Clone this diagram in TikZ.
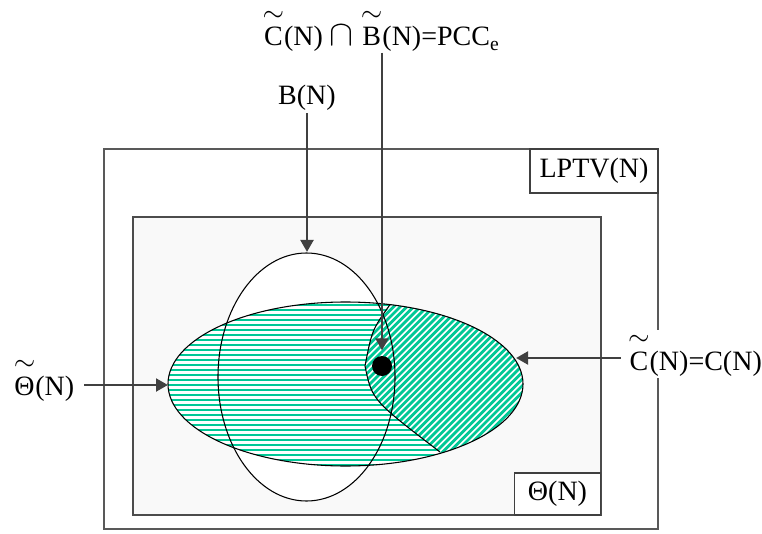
\documentclass[tikz,border=0pt]{standalone}
\usepackage{amsmath}
\usepackage{fontspec}
\setmainfont{Liberation Serif}
\usetikzlibrary{arrows.meta,positioning}

\definecolor{hatchgreen}{RGB}{0,200,150}
\definecolor{pointgray}{RGB}{64,64,64}
\definecolor{setgray}{RGB}{249,249,249}
\newcommand{\tld}[1]{\ensuremath{\overset{\raisebox{0.5pt}{$\sim$}}{\text{#1}}}}

\begin{document}
\begin{tikzpicture}[x=0.75pt,y=-0.75pt,>={Triangle[length=9pt,width=9.5pt]},
  lbl/.style={font=\fontsize{21}{25}\selectfont,inner sep=1.5pt},
  tagbox/.style={lbl,draw=black!75,fill=white,line width=0.8pt},
  pointer/.style={->,draw=pointgray,fill=pointgray,line width=2.2pt},
  stripe/.style={hatchgreen,line width=2.2pt},
  contour/.style={draw=black,line width=0.8pt}]
\useasboundingbox (0,0) rectangle (762,534);
% LPTV(N) and Theta(N)
\draw[black!65,line width=1.1pt] (104,149) rectangle (658,529);
\draw[black!70,fill=setgray,line width=1.1pt] (133,217) rectangle (601,515);
% B(N)
\fill[white] (306.5,377) ellipse [x radius=88.5,y radius=124];
% C(N), horizontal hatch
\begin{scope}
\clip (345.5,384) ellipse [x radius=177.5,y radius=82];
\fill[white] (160,295) rectangle (530,470);
\foreach \y in {300,305,...,470} {\draw[stripe] (160,\y) -- (530,\y);}
\end{scope}
% PCC part, diagonal hatch
\begin{scope}
\clip (345.5,384) ellipse [x radius=177.5,y radius=82];
\clip (391,295) -- (391,305) .. controls (372,330) .. (365,366)
  .. controls (372,400) .. (440,452) -- (460,480) -- (540,480) -- (540,295) -- cycle;
\fill[white] (355,295) rectangle (530,470);
\foreach \c in {640,646.7,...,1000} {\draw[stripe,line width=2.1pt] (\c-480,480) -- (\c-290,290);}
\end{scope}
\draw[contour] (306.5,377) ellipse [x radius=88.5,y radius=124];
\draw[contour] (345.5,384) ellipse [x radius=177.5,y radius=82];
\draw[contour] (390,304.6) .. controls (372,330) .. (365,366) .. controls (372,400) .. (440,452);
\node[circle,fill=black,inner sep=0pt,minimum size=15pt] (pcc) at (382,366) {};

\node[tagbox,minimum width=96pt,minimum height=33pt] (lptv) at (594,171) {LPTV(N)};
\node[tagbox,minimum width=65pt,minimum height=31.5pt] (theta) at (557.5,494) {Θ(N)};

\coordinate (btop) at (307,252);
\coordinate (thtip) at (168,385);
\coordinate (ctip) at (516,358);

\node[lbl,anchor=base,inner sep=0.5pt] (pcctext) at (381,46) {\tld{C}(N) \scalebox{1.3}{\ensuremath{\cap}} \tld{B}(N)=PCC\textsubscript{e}};
\node[lbl,anchor=base] (bn) at (307,105) {B(N)};
\node[lbl,anchor=base] (thetat) at (44,395) {\tld{Θ}(N)};
\node[lbl,anchor=base,fill=white] (cn) at (695,370) {\tld{C}(N)=C(N)};

\draw[pointer] (bn.south) -- (btop);
\draw[pointer,shorten >=4pt] (pcctext.south -| pcc) -- (pcc.north);
\draw[pointer,shorten <=6pt] (thetat.east |- thtip) -- (thtip);
\draw[pointer,shorten <=4pt] (cn.west |- ctip) -- (ctip);
\end{tikzpicture}
\end{document}
